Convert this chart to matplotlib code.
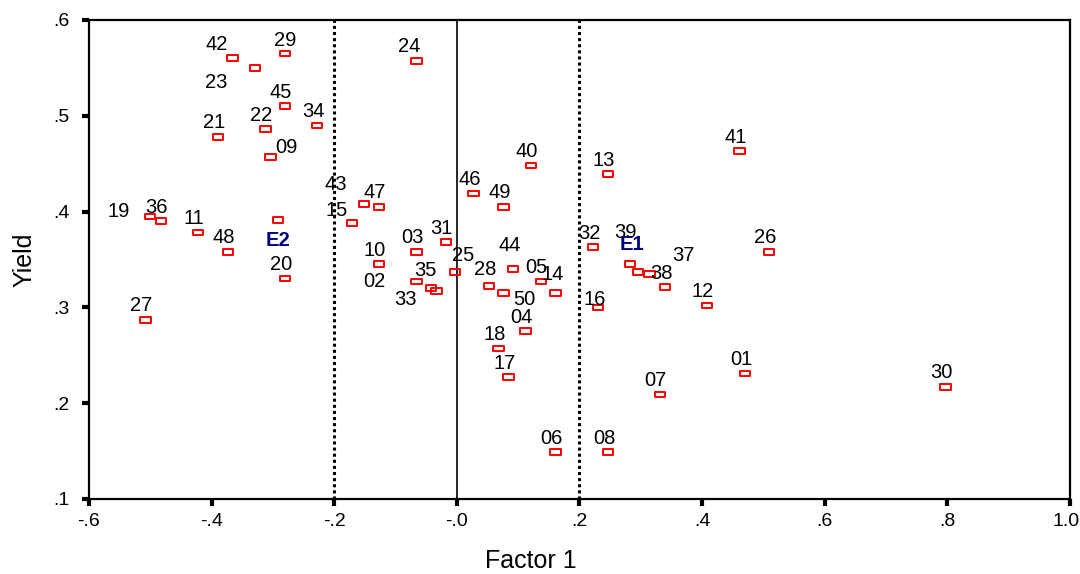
import matplotlib
matplotlib.use("Agg")
import matplotlib.pyplot as plt
from matplotlib.path import Path
from matplotlib.transforms import ScaledTranslation

plt.rcParams["font.family"] = ["Liberation Sans", "DejaVu Sans"]

# case ids, factor score and yield
case_ids = ["01", "02", "03", "04", "05", "06", "07", "08", "09", "10",
            "11", "12", "13", "14", "15", "16", "17", "18", "19", "20",
            "21", "22", "23", "24", "25", "26", "27", "28", "29", "30",
            "31", "32", "33", "34", "35", "36", "37", "38", "39", "40",
            "41", "42", "43", "44", "45", "46", "47", "48", "49", "50",
            "E1", "E2"]
factor1 = [0.470, -0.066, -0.066, 0.112, 0.137, 0.161, 0.331, 0.247, -0.304, -0.127,
           -0.422, 0.408, 0.246, 0.161, -0.171, 0.230, 0.084, 0.068, -0.500, -0.280,
           -0.390, -0.312, -0.329, -0.066, -0.003, 0.509, -0.508, 0.052, -0.280, 0.797,
           -0.018, 0.222, -0.033, -0.228, -0.042, -0.483, 0.314, 0.340, 0.282, 0.121,
           0.461, -0.366, -0.152, 0.092, -0.280, 0.027, -0.127, -0.373, 0.076, 0.076,
           0.295, -0.292]
yield_ = [0.231, 0.327, 0.358, 0.275, 0.327, 0.149, 0.209, 0.149, 0.457, 0.345,
          0.378, 0.302, 0.439, 0.315, 0.388, 0.300, 0.227, 0.257, 0.395, 0.330,
          0.478, 0.486, 0.550, 0.557, 0.337, 0.358, 0.287, 0.322, 0.565, 0.217,
          0.368, 0.363, 0.317, 0.490, 0.320, 0.390, 0.335, 0.321, 0.345, 0.448,
          0.463, 0.560, 0.408, 0.340, 0.510, 0.419, 0.405, 0.358, 0.405, 0.315,
          0.337, 0.391]

x_ticks = [-0.6, -0.4, -0.2, 0.0, 0.2, 0.4, 0.6, 0.8, 1.0]
x_tick_labels = ["-.6", "-.4", "-.2", "-.0", ".2", ".4", ".6", ".8", "1.0"]
y_ticks = [0.1, 0.2, 0.3, 0.4, 0.5, 0.6]
y_tick_labels = [".1", ".2", ".3", ".4", ".5", ".6"]

# label placement (pixels, x right / y down) where it differs from the default
DEFAULT_OFFSET = (-4, -14)
LABEL_OFFSETS = {
    "42": (-16, -14), "23": (-39, 15), "24": (-7, -15), "09": (16, -9),
    "19": (-32, -5), "E2": (0, 20), "43": (-28, -19), "15": (-15, -13),
    "02": (-42, 0), "35": (-6, -18), "33": (-31, 8), "25": (8, -16),
    "44": (-4, -24), "28": (-4, -17), "50": (21, 6), "14": (-3, -19),
    "16": (-3, -8), "39": (-4, -32), "E1": (-6, -27), "37": (34, -18),
    "29": (0, -13),
}

box = Path([(-1, -0.55), (1, -0.55), (1, 0.55), (-1, 0.55), (-1, -0.55)],
           [Path.MOVETO, Path.LINETO, Path.LINETO, Path.LINETO, Path.CLOSEPOLY])

fig = plt.figure(figsize=(10.8, 5.74), dpi=100)
ax = fig.add_axes([0.0824, 0.1307, 0.9083, 0.8345])

ax.axvline(0.0, color="black", lw=1.2, zorder=1)
for xv in (-0.2, 0.2):
    ax.axvline(xv, color="black", lw=2.2, ls=(0, (1, 1)), zorder=1)

ax.scatter(factor1, yield_, marker=box, s=55, facecolors="none",
           edgecolors="#ff0000", linewidths=1.4, zorder=3)

for cid, xv, yv in zip(case_ids, factor1, yield_):
    dx, dy = LABEL_OFFSETS.get(cid, DEFAULT_OFFSET)
    bold = cid.startswith("E")
    ax.annotate(cid, (xv, yv), xytext=(dx, -dy), textcoords="offset pixels",
                ha="center", va="center", fontsize=14.5,
                color="#000080" if bold else "black",
                fontweight="bold" if bold else "normal", zorder=4)

ax.set_xlim(-0.6, 1.0)
ax.set_ylim(0.1, 0.6)
ax.set_xticks(x_ticks)
ax.set_xticklabels(x_tick_labels)
ax.set_yticks(y_ticks)
ax.set_yticklabels(y_tick_labels)
ax.tick_params(length=5, width=3, labelsize=14, color="black")
ax.tick_params(axis="x", pad=5)
ax.tick_params(axis="y", pad=9)
for sp in ax.spines.values():
    sp.set_linewidth(1.6)

# keep "1.0" inside the canvas, as in the reference
last = ax.get_xticklabels()[-1]
last.set_transform(last.get_transform() + ScaledTranslation(-4 / 100, 0, fig.dpi_scale_trans))

ax.set_xlabel("Factor 1", fontsize=18)
ax.set_ylabel("Yield", fontsize=18, labelpad=12)
# the x title sits left of the axes centre in the reference
ax.xaxis.set_label_coords(0.4506, -0.105)

fig.savefig("out.png", dpi=100)
